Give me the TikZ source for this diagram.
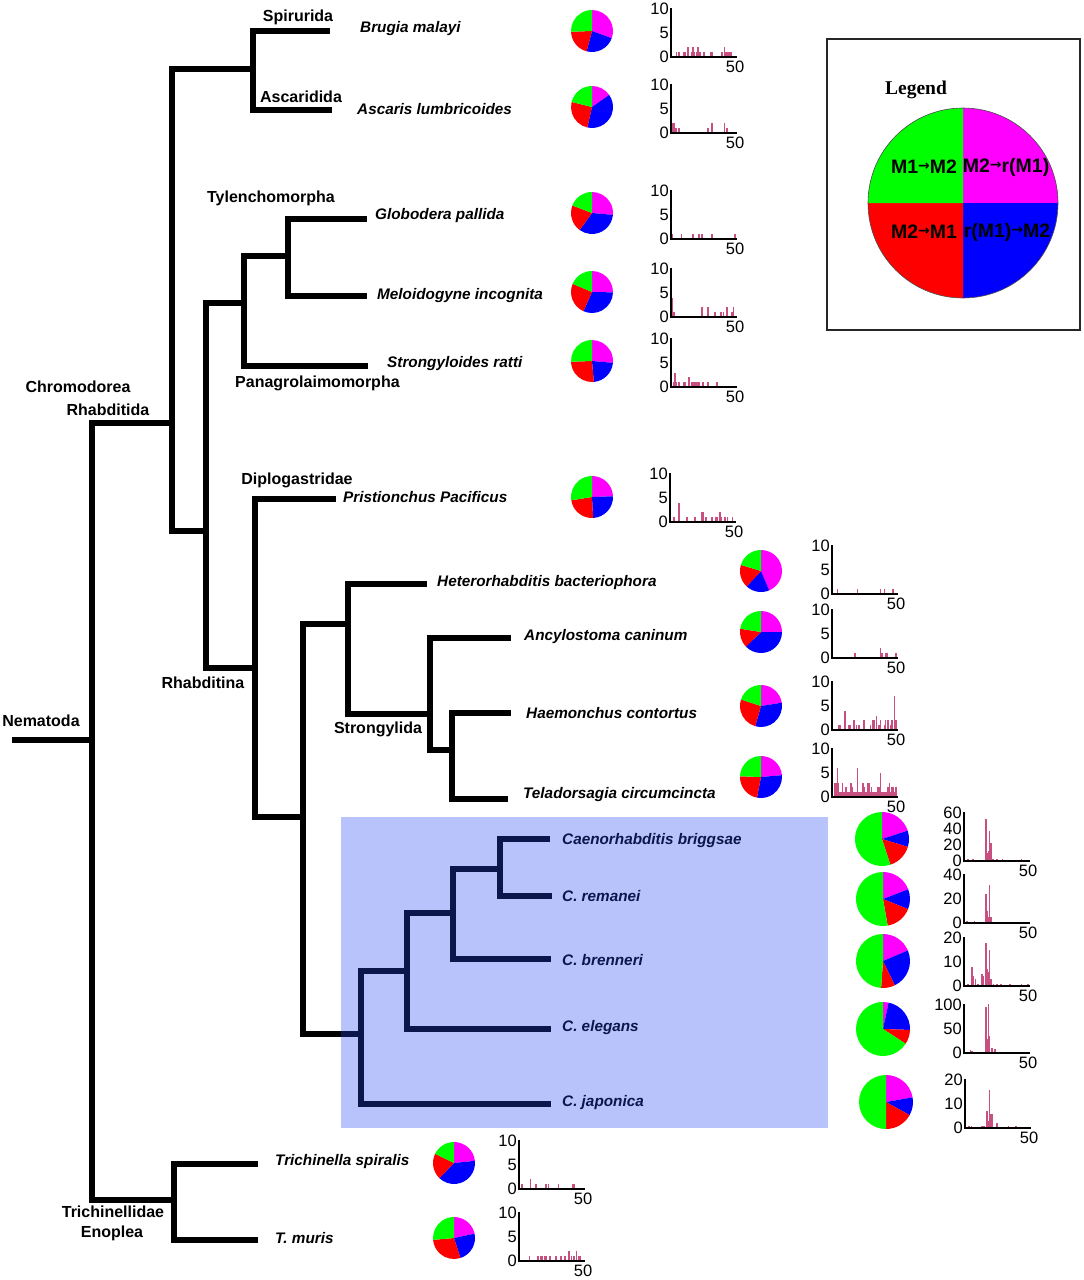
\documentclass[tikz,border=0pt]{standalone}
\usepackage{fontspec}
\setmainfont{Liberation Sans}
\newfontfamily\legfont{Liberation Serif}
\newfontfamily\arrfont{DejaVu Sans}
\definecolor{pmag}{RGB}{255,0,255}
\definecolor{pblue}{RGB}{0,0,255}
\definecolor{pred}{RGB}{255,0,0}
\definecolor{pgreen}{RGB}{0,255,0}
\definecolor{navy}{RGB}{12,22,75}
\definecolor{boxblue}{RGB}{185,195,251}
\definecolor{barc}{RGB}{200,80,128}
\newcommand\mypie[6]{%
 \fill[pmag] (#1,#2) -- ++(-90:#3) arc[start angle=-90, end angle={#4-90}, radius=#3] -- cycle;
 \fill[pblue] (#1,#2) -- ++({#4-90}:#3) arc[start angle={#4-90}, end angle={#5-90}, radius=#3] -- cycle;
 \fill[pred] (#1,#2) -- ++({#5-90}:#3) arc[start angle={#5-90}, end angle={#6-90}, radius=#3] -- cycle;
 \fill[pgreen] (#1,#2) -- ++({#6-90}:#3) arc[start angle={#6-90}, end angle=270, radius=#3] -- cycle;
}
\newcommand\hist[6]{%
 \foreach \bu/\bh in {#6} {\fill[barc] ({#2+1.5+\bu*1.27-0.8},{#3}) rectangle ({#2+1.5+\bu*1.27+0.8},{#3-\bh*48/#4});}
 \draw[axisl] ({#2},{#3-49}) -- ({#2},{#3}) -- ({#2+66},{#3});
 \foreach \tk in {#5} {\node[ticklab,anchor=east] (#1t\tk) at ({#2-2},{#3-\tk*48/#4}) {\tk};}
 \node[ticklab] (#1x) at ({#2+64},{#3+10}) {50};
}
\newcommand\arr{\raisebox{3pt}{\arrfont\fontsize{14}{14}\selectfont →}}
\begin{document}
\begin{tikzpicture}[x=1pt,y=-1pt,
  tree/.style={line width=6pt, line join=miter},
  ntree/.style={tree, draw=navy},
  clade/.style={font=\bfseries\fontsize{16}{18}\selectfont, inner sep=0},
  sp/.style={font=\bfseries\itshape\fontsize{15.3}{18}\selectfont, inner sep=0, anchor=west},
  nsp/.style={sp, text=navy},
  ticklab/.style={font=\fontsize{16.5}{18}\selectfont, inner sep=0},
  axisl/.style={line width=1.4pt, black},
  legm/.style={font=\bfseries\fontsize{19.5}{22}\selectfont, inner sep=0}]
\useasboundingbox (0,0) rectangle (1084,1280);
\fill[boxblue] (341,817) rectangle (828,1128);
% coordinates
\coordinate (root) at (12,740);
\coordinate (nem) at (92,740);
\coordinate (chr) at (172,423);
\coordinate (eno) at (174,1200);
\coordinate (spa) at (253,69);
\coordinate (bru) at (330,31);
\coordinate (asc) at (332,110);
\coordinate (rha) at (206,531);
\coordinate (tp) at (244,303);
\coordinate (tyl) at (288,256);
\coordinate (gpa) at (367,219);
\coordinate (min) at (367,296);
\coordinate (sra) at (368,366);
\coordinate (rhb) at (255,668);
\coordinate (ppa) at (336,499);
\coordinate (nA) at (303,817);
\coordinate (str) at (348,624);
\coordinate (hba) at (427,584);
\coordinate (nB) at (430,714);
\coordinate (aca) at (511,638);
\coordinate (nC) at (452,750);
\coordinate (hco) at (511,713);
\coordinate (tci) at (508,799);
\coordinate (cae) at (361,1034);
\coordinate (boxl) at (341,1034);
\coordinate (cjp) at (551,1104);
\coordinate (nD) at (407,971);
\coordinate (cel) at (551,1029);
\coordinate (nE) at (453,913);
\coordinate (cbn) at (551,959);
\coordinate (nF) at (500,869);
\coordinate (cbr) at (550,839);
\coordinate (crm) at (552,896);
\coordinate (trs) at (258,1164);
\coordinate (tmu) at (258,1240);
% black tree
\draw[tree] (root) -- (nem);
\draw[tree] (nem) |- (chr);
\draw[tree] (nem) |- (eno);
\draw[tree] (chr) |- (spa);
\draw[tree] (chr) |- (rha);
\draw[tree] (spa) |- (bru);
\draw[tree] (spa) |- (asc);
\draw[tree] (rha) |- (tp);
\draw[tree] (rha) |- (rhb);
\draw[tree] (tp) |- (tyl);
\draw[tree] (tp) |- (sra);
\draw[tree] (tyl) |- (gpa);
\draw[tree] (tyl) |- (min);
\draw[tree] (rhb) |- (ppa);
\draw[tree] (rhb) |- (nA);
\draw[tree] (nA) |- (str);
\draw[tree] (nA) |- (cae);
\draw[tree] (str) |- (hba);
\draw[tree] (str) |- (nB);
\draw[tree] (nB) |- (aca);
\draw[tree] (nB) |- (nC);
\draw[tree] (nC) |- (hco);
\draw[tree] (nC) |- (tci);
\draw[tree] (eno) |- (trs);
\draw[tree] (eno) |- (tmu);
% navy tree
\draw[ntree] (boxl) -- (cae);
\draw[ntree] (cae) |- (cjp);
\draw[ntree] (cae) |- (nD);
\draw[ntree] (nD) |- (cel);
\draw[ntree] (nD) |- (nE);
\draw[ntree] (nE) |- (cbn);
\draw[ntree] (nE) |- (nF);
\draw[ntree] (nF) |- (cbr);
\draw[ntree] (nF) |- (crm);
% clade labels
\node[clade] (lspi) at (298,17) {Spirurida};
\node[clade] (lasc) at (301,97) {Ascaridida};
\node[clade] (ltyl) at (271,198) {Tylenchomorpha};
\node[clade,anchor=west] (lpan) at (235,383) {Panagrolaimomorpha};
\node[clade] (lchr) at (78,387) {Chromodorea};
\node[clade] (lrha) at (108,410) {Rhabditida};
\node[clade] (ldip) at (297,480) {Diplogastridae};
\node[clade] (lrhb) at (203,683) {Rhabditina};
\node[clade] (lnem) at (41,721) {Nematoda};
\node[clade] (lstr) at (378,729) {Strongylida};
\node[clade] (ltri) at (113,1212) {Trichinellidae};
\node[clade] (leno) at (112,1233) {Enoplea};
% species labels
\node[sp] (tbru) at (360,29) {Brugia malayi};
\node[sp] (tasc) at (357,109) {Ascaris lumbricoides};
\node[sp] (tgpa) at (375,216) {Globodera pallida};
\node[sp] (tmin) at (377,296) {Meloidogyne incognita};
\node[sp] (tsra) at (387,364) {Strongyloides ratti};
\node[sp] (tppa) at (343,497) {Pristionchus Pacificus};
\node[sp] (thba) at (437,583) {Heterorhabditis bacteriophora};
\node[sp] (taca) at (524,637) {Ancylostoma caninum};
\node[sp] (thco) at (526,713) {Haemonchus contortus};
\node[sp] (ttci) at (523,795) {Teladorsagia circumcincta};
\node[nsp] (tcbr) at (562,841) {Caenorhabditis briggsae};
\node[nsp] (tcrm) at (562,896) {C. remanei};
\node[nsp] (tcbn) at (562,960) {C. brenneri};
\node[nsp] (tcel) at (562,1028) {C. elegans};
\node[nsp] (tcjp) at (562,1103) {C. japonica};
\node[sp] (ttrs) at (275,1162) {Trichinella spiralis};
\node[sp] (ttmu) at (275,1238) {T. muris};
% pies
\mypie{592}{31}{21}{110}{195}{268}
\mypie{592}{107}{21}{55}{193}{284}
\mypie{592}{213}{21}{95}{216}{291}
\mypie{592}{292}{21}{91}{204}{293}
\mypie{592}{361}{21}{95}{175}{268}
\mypie{592}{497}{21}{88}{177}{261}
\mypie{761}{571}{21}{157}{223}{287}
\mypie{761}{632}{21}{90}{226}{279}
\mypie{761}{706}{21}{81}{196}{288}
\mypie{761}{777}{21}{85}{191}{272}
\mypie{882}{839}{27}{72}{107}{162}
\mypie{883}{899}{27}{69}{112}{170}
\mypie{883}{961}{27}{67}{154}{184}
\mypie{883}{1029}{27}{12}{92}{123}
\mypie{886}{1102}{27}{80}{119}{180}
\mypie{454}{1163}{21}{84}{224}{296}
\mypie{454}{1238}{21}{78}{162}{265}
% histograms
\hist{ha}{671}{57}{10}{0,5,10}{3/1,5/1,9/1,10/1,12/2,15/1,16/2,17/1,19/1,20/2,21/1,22/1,25/1,30/1,31/1,39/1,41/2,42/1,43/1,44/1,45/1,46/1}
\hist{hb}{671}{133}{10}{0,5,10}{0/2,1/2,2/1,3/1,5/1,28/1,31/2,41/2,43/1}
\hist{hc}{671}{239}{10}{0,5,10}{0/1,7/1,16/1,21/1,23/1,31/1,49/1}
\hist{hd}{671}{317}{10}{0,5,10}{0/4,1/1,23/2,28/2,33/1,34/1,38/1,40/1,43/2,47/1,48/2}
\hist{he}{671}{387}{10}{0,5,10}{1/1,2/3,3/1,5/1,9/1,10/1,13/2,15/1,16/1,17/1,18/1,19/1,20/1,21/1,24/1,28/1,35/1}
\hist{hf}{670}{522}{10}{0,5,10}{2/1,6/4,12/1,18/1,19/1,24/2,25/2,27/1,32/1,35/1,36/1,38/2,39/1,42/1,44/1,48/1}
\hist{hg}{832}{594}{10}{0,5,10}{3/1,19/1,37/1,40/1,47/1}
\hist{hh}{832}{658}{10}{0,5,10}{17/1,37/2,38/1,41/1,42/1,49/1}
\hist{hi}{832}{730}{10}{0,5,10}{4/1,5/1,9/4,12/1,13/1,16/2,18/1,20/1,24/2,29/1,31/2,32/2,34/3,36/1,37/2,40/1,41/2,43/2,45/1,46/2,48/7,49/2}
\hist{hj}{832}{797}{10}{0,5,10}{1/3,2/3,3/6,4/3,5/1,6/1,7/3,8/1,9/1,10/2,11/1,12/1,13/1,14/3,15/2,16/1,17/1,18/1,19/6,20/1,21/1,22/1,23/3,24/2,25/1,26/1,27/3,28/3,29/1,30/2,31/1,32/1,33/1,34/1,35/2,36/2,37/5,38/1,39/1,40/1,41/1,42/1,43/2,44/3,45/1,46/2,47/2,48/1,49/2}
\hist{hk}{964}{861}{60}{0,20,40,60}{2/2,6/2,9/1,16/52,17/10,18/13,19/38,20/22,21/3,22/2,25/2,29/2,35/1,44/2,46/1}
\hist{hl}{964}{923}{40}{0,20,40}{1/2,7/2,9/1,16/24,17/10,18/5,19/32,20/5,22/1,27/1,31/1,42/1}
\hist{hm}{964}{986}{20}{0,10,20}{2/1,5/8,6/4,8/3,10/1,13/5,14/4,16/18,17/7,18/6,19/15,20/3,22/1,25/1,28/1,35/1,44/1,49/1}
\hist{hn}{964}{1053}{100}{0,50,100}{2/3,4/6,5/5,8/3,12/2,16/95,17/30,18/102,19/35,21/10,23/8,25/3,27/2,35/2,42/2,46/1}
\hist{ho}{965}{1128}{20}{0,10,20}{2/1,4/1,12/1,14/1,16/7,17/3,18/16,19/6,20/6,24/2,33/1,39/1}
\hist{hp}{519}{1189}{10}{0,5,10}{1/1,8/2,12/1,20/1,22/1,30/1,41/1,42/1}
\hist{hq}{519}{1261}{10}{0,5,10}{7/1,14/1,16/1,17/1,19/1,20/1,23/1,28/1,32/1,35/1,38/2,40/1,42/1,44/2,46/1,47/1}
% legend
\draw[line width=2pt, black!85] (827,39) rectangle (1080,330);
\node[font=\legfont\bfseries\fontsize{19.5}{22}\selectfont, inner sep=0] (legt) at (916,90) {Legend};
\mypie{963}{203}{95}{90}{180}{270}
\draw[black!70, line width=0.6pt] (963,203) circle[radius=95];
\node[legm] (l1) at (924,167) {M1\arr M2};
\node[legm] (l2) at (1006,167) {M2\arr r(M1)};
\node[legm] (l3) at (924,232) {M2\arr M1};
\node[legm] (l4) at (1007,232) {r(M1)\arr M2};
\end{tikzpicture}
\end{document}
